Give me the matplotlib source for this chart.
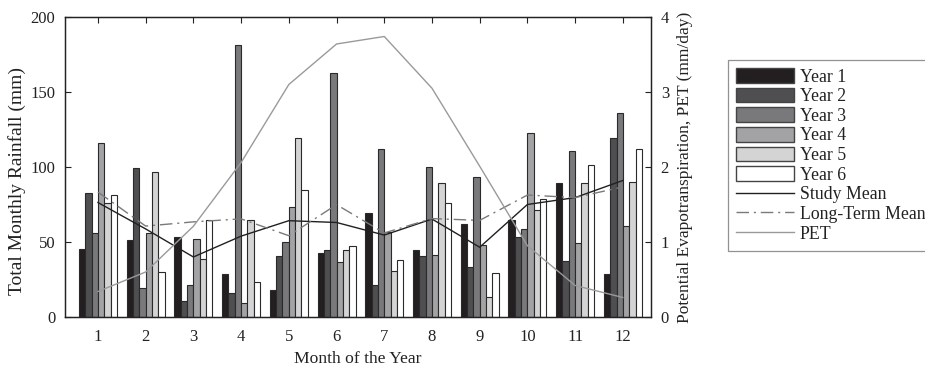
import numpy as np
import matplotlib
matplotlib.use('Agg')
import matplotlib.pyplot as plt
from matplotlib.patches import Patch
from matplotlib.lines import Line2D

# monthly rainfall per year (mm)
months = [1, 2, 3, 4, 5, 6, 7, 8, 9, 10, 11, 12]
year1 = [45.6, 51.1, 53.3, 28.7, 18.0, 42.4, 69.3, 44.7, 62.2, 64.7, 89.3, 28.4]
year2 = [82.9, 99.1, 10.7, 16.2, 40.4, 44.4, 21.1, 40.4, 33.1, 53.3, 37.6, 119.1]
year3 = [55.8, 19.3, 21.3, 181.1, 50.2, 162.9, 111.8, 99.8, 93.1, 58.7, 110.4, 136.0]
year4 = [116.2, 55.8, 51.8, 9.3, 73.3, 36.7, 56.7, 41.6, 47.8, 122.9, 49.1, 60.7]
year5 = [75.8, 96.7, 38.4, 64.7, 119.1, 44.7, 30.7, 89.1, 13.1, 71.6, 89.6, 90.2]
year6 = [81.6, 30.2, 64.7, 23.3, 84.4, 47.1, 38.2, 76.2, 29.6, 78.9, 101.3, 111.8]

study_mean = [76.3, 58.7, 40.0, 53.9, 64.2, 63.0, 54.6, 65.3, 46.5, 75.0, 79.6, 91.0]
longterm_mean = [83.3, 60.6, 63.4, 65.4, 54.2, 74.9, 56.0, 65.6, 64.4, 81.3, 79.6, 86.7]
pet = [0.34, 0.60, 1.21, 2.06, 3.10, 3.64, 3.74, 3.05, 2.01, 0.95, 0.42, 0.26]

years = [year1, year2, year3, year4, year5, year6]
year_labels = ['Year 1', 'Year 2', 'Year 3', 'Year 4', 'Year 5', 'Year 6']
bar_colors = ['#231f20', '#4f4f51', '#79797b', '#a3a3a5', '#d4d4d4', '#ffffff']
edge = '#2a2a2a'
ink = '#222222'

plt.rcParams['font.family'] = ['Liberation Serif', 'DejaVu Serif']
plt.rcParams['font.size'] = 11.5

fig = plt.figure(figsize=(9.25, 3.71), dpi=100)
ax = fig.add_axes([0.0703, 0.1456, 0.6335, 0.8086])
ax2 = ax.twinx()

x = np.array(months, dtype=float)
w = 0.1327
for i, (vals, col) in enumerate(zip(years, bar_colors)):
	ax.bar(x + (i - 2.5) * w, vals, w, color=col, edgecolor=edge, linewidth=0.8, zorder=2)

ax.plot(months, study_mean, color='#231f20', lw=1.0, zorder=3)
ax.plot(months, longterm_mean, color='#7a7a7a', lw=1.0, linestyle=(0, (9, 3.5, 1.5, 3.5)), zorder=3)
ax2.plot(months, pet, color='#9a9a9a', lw=1.0)

ax.set_xlim(0.31, 12.59)
ax.set_ylim(0, 200)
ax2.set_ylim(0, 4)
ax.set_xticks(months)
ax.set_yticks([0, 50, 100, 150, 200])
ax2.set_yticks([0, 1, 2, 3, 4])
ax.tick_params(direction='in', length=4.5, width=0.8, colors=ink, labelcolor=ink, top=True, pad=7, labelsize=12)
ax.tick_params(axis='x', pad=9)
ax2.tick_params(direction='in', length=4.5, width=0.8, colors=ink, labelcolor=ink, pad=7, labelsize=12)
for a in (ax, ax2):
	for s in a.spines.values():
		s.set_color(ink)
		s.set_linewidth(0.9)

ax.set_xlabel('Month of the Year', color=ink, labelpad=4, fontsize=12.6)
ax.set_ylabel('Total Monthly Rainfall (mm)', color=ink, fontsize=14)
ax.yaxis.set_label_coords(-0.066, 0.453)
ax2.set_ylabel('Potential Evapotranspiration, PET (mm/day)', color=ink, labelpad=6, fontsize=12.5)

handles = [Patch(facecolor=c, edgecolor='#444444', linewidth=1.0) for c in bar_colors]
handles += [Line2D([], [], color='#231f20', lw=1.0),
            Line2D([], [], color='#7a7a7a', lw=1.0, linestyle=(0, (9, 3.5, 1.5, 3.5))),
            Line2D([], [], color='#9a9a9a', lw=1.0)]
labels = year_labels + ['Study Mean', 'Long-Term Mean', 'PET']
leg = fig.legend(handles, labels, loc='upper left', bbox_to_anchor=(728 / 925, 1 - 60 / 371),
                 frameon=True, fancybox=False, fontsize=12.8, handlelength=3.25, handleheight=0.9,
                 labelspacing=0.12, handletextpad=0.34, borderpad=0.45, borderaxespad=0)
leg.get_frame().set_edgecolor('#777777')
leg.get_frame().set_linewidth(0.9)
for t in leg.get_texts():
	t.set_color(ink)

fig.savefig('out.png', dpi=100)
